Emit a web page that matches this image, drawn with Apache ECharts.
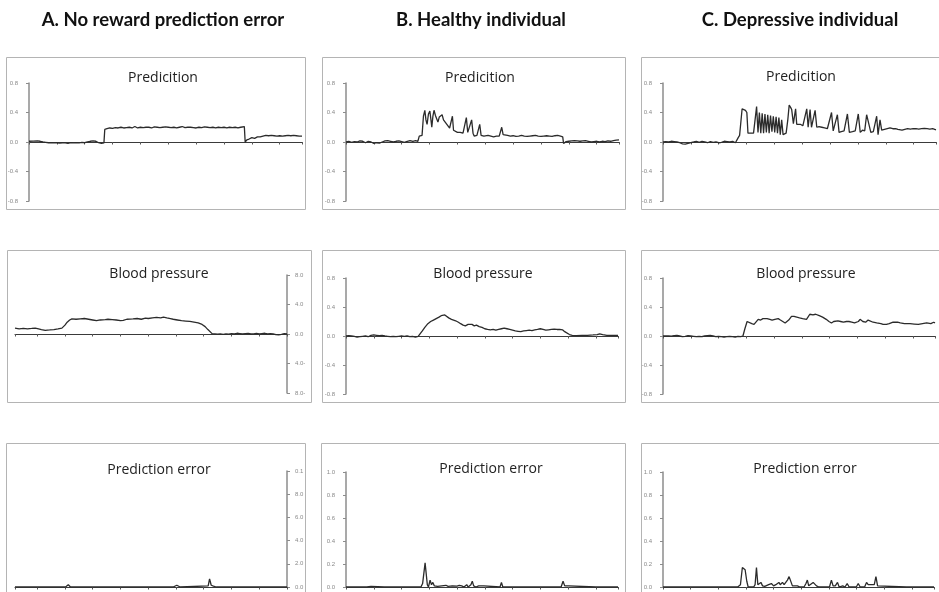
<!DOCTYPE html>
<html>
<head>
<meta charset="utf-8">
<script src="https://cdn.jsdelivr.net/npm/echarts@6/dist/echarts.min.js"></script>
<style>
  html, body { margin: 0; padding: 0; background: #fff; }
  #main { width: 939px; height: 592px; }
</style>
</head>
<body>
<div id="main"></div>
<script>
// column headers and panel titles
var headers = ['A. No reward prediction error', 'B. Healthy individual', 'C. Depressive individual'];
var rowTitles = ['Predicition', 'Blood pressure', 'Prediction error'];

// tick labels of the mirrored panels in column A (they are printed flipped)
var mirroredBpLabels = ['8.0-', '4.0-', '0.0', '4.0', '8.0'];
var mirroredPeLabels = ['0.0', '2.0', '4.0', '6.0', '8.0', '0.1'];

// time runs 0..98 on every panel, ticks every 10
// A. prediction
var predA = [[0,0.01],[1.5,0.012],[3,0.015],[4,0.01],[5,0.0],[6,-0.005],[7,-0.01],[8,-0.008],[9,-0.012],[10,-0.01],[11,-0.015],[12,-0.01],[13,-0.012],[14,-0.018],[15,-0.01],[16,-0.012],[17,-0.008],[18,-0.012],[19,-0.006],[20,-0.01],[21,0.0],[22,0.01],[23,0.015],[24,0.01],[25,-0.01],[26,-0.02],[26.9,-0.012],[27.2,0.17],[28,0.18],[29,0.19],[30,0.185],[31,0.195],[32,0.19],[33,0.2],[34,0.19],[35,0.195],[36,0.2],[37,0.19],[38,0.21],[39,0.19],[40,0.2],[41,0.195],[42,0.2],[43,0.2],[44,0.19],[45,0.205],[46,0.2],[47,0.195],[48,0.2],[49,0.205],[50,0.2],[51,0.195],[52,0.2],[53,0.19],[54,0.2],[55,0.21],[56,0.195],[57,0.2],[58,0.2],[59,0.195],[60,0.19],[61,0.2],[62,0.195],[63,0.205],[64,0.2],[65,0.195],[66,0.2],[67,0.19],[68,0.2],[69,0.195],[70,0.2],[71,0.19],[72,0.2],[73,0.195],[74,0.2],[75,0.19],[76,0.2],[77.3,0.21],[77.6,0.0],[78.2,0.03],[79,0.04],[80,0.06],[81,0.05],[82,0.07],[83,0.07],[84,0.08],[85,0.09],[86,0.085],[87,0.09],[88,0.085],[89,0.08],[90,0.085],[91,0.08],[92,0.085],[93,0.09],[94,0.085],[95,0.09],[96,0.085],[97,0.08],[98,0.08]];

// B. prediction
var predB = [[0,0.0],[1,0.01],[2,-0.005],[3,0.005],[4,0.0],[5,0.015],[6,0.01],[7,-0.01],[8,0.01],[9,0.0],[10,-0.02],[11,-0.01],[12,-0.015],[13,0.0],[14,0.015],[15,0.02],[16,0.01],[17,0.0],[18,0.01],[19,0.015],[20,0.005],[21,-0.005],[22,0.01],[23,0.02],[24,0.01],[25,0.02],[25.8,0.01],[26.3,0.08],[26.8,0.1],[27.3,0.09],[27.8,0.35],[28.3,0.43],[28.7,0.3],[29.1,0.24],[29.6,0.38],[30.1,0.42],[30.5,0.3],[30.8,0.2],[31.2,0.35],[31.6,0.43],[32.1,0.36],[32.5,0.38],[33,0.27],[33.5,0.34],[33.9,0.36],[34.5,0.37],[35,0.3],[35.5,0.28],[36,0.25],[36.6,0.22],[37.2,0.19],[37.8,0.17],[38.2,0.35],[38.6,0.16],[39.2,0.14],[40,0.13],[41,0.13],[42,0.12],[42.6,0.14],[43.2,0.33],[43.7,0.13],[44.3,0.12],[45.1,0.3],[45.6,0.12],[46,0.08],[47,0.09],[47.6,0.1],[48,0.24],[48.5,0.09],[49.5,0.08],[51,0.09],[52,0.08],[53,0.07],[54,0.08],[55,0.08],[55.5,0.1],[55.9,0.2],[56.4,0.1],[57,0.08],[58,0.09],[59,0.08],[60,0.085],[61,0.075],[62,0.08],[63,0.09],[64,0.08],[65,0.075],[66,0.08],[67,0.085],[68,0.09],[69,0.08],[70,0.075],[71,0.08],[72,0.085],[73,0.08],[74,0.075],[75,0.085],[76,0.09],[77,0.08],[77.8,0.07],[78.1,-0.02],[78.6,0.0],[79,0.005],[80,0.01],[81,0.015],[82,0.02],[83,0.015],[84,0.01],[85,0.015],[86,0.02],[87,0.01],[88,0.0],[89,0.005],[90,0.01],[91,0.0],[92,0.01],[93,0.005],[94,0.015],[95,0.01],[96,0.02],[97,0.025],[98,0.03]];

// C. prediction
var predC = [[0,0.0],[1,0.005],[2,0.0],[3,0.01],[4,0.005],[5,0.0],[6,-0.01],[7,-0.025],[8,-0.03],[9,-0.02],[10,-0.01],[11,0.0],[12,0.01],[13,-0.005],[14,0.01],[15,0.0],[16,-0.01],[17,0.005],[18,-0.005],[19,0.0],[20,-0.01],[21,-0.005],[22,0.01],[23,0.005],[24,0.0],[25,0.01],[26,-0.01],[26.5,0.0],[27,0.06],[27.5,0.09],[28,0.1],[28.4,0.45],[29,0.44],[29.6,0.43],[30.1,0.4],[30.5,0.12],[31,0.11],[31.5,0.12],[32,0.11],[32.5,0.12],[33.2,0.12],[33.6,0.48],[34.1,0.13],[34.6,0.4],[35.1,0.12],[35.6,0.39],[36.1,0.12],[36.6,0.38],[37.1,0.13],[37.6,0.37],[38.1,0.12],[38.6,0.36],[39.1,0.14],[39.6,0.35],[40.1,0.13],[40.6,0.34],[41.1,0.12],[41.6,0.33],[42.1,0.1],[42.6,0.3],[43.1,0.1],[43.6,0.08],[44.2,0.12],[44.8,0.3],[45.3,0.5],[45.8,0.47],[46.2,0.44],[46.8,0.25],[47.2,0.27],[47.6,0.45],[48.0,0.24],[48.6,0.25],[49.3,0.24],[50.2,0.22],[50.8,0.24],[51.6,0.45],[52.1,0.2],[52.8,0.44],[53.3,0.2],[54.0,0.22],[54.6,0.43],[55.2,0.2],[56,0.21],[57,0.2],[58,0.19],[59,0.18],[59.6,0.2],[60.5,0.4],[61.1,0.15],[61.6,0.17],[62.6,0.37],[63.2,0.13],[64,0.14],[65,0.15],[65.7,0.16],[66.2,0.38],[66.9,0.13],[68,0.14],[69,0.15],[69.6,0.17],[70.1,0.38],[70.8,0.13],[71.6,0.16],[72.4,0.15],[73.1,0.37],[73.8,0.36],[74.6,0.13],[75.5,0.14],[76.1,0.15],[76.7,0.35],[77.2,0.1],[77.9,0.3],[78.5,0.16],[79.5,0.17],[80.5,0.18],[81.5,0.19],[82.5,0.18],[83.5,0.18],[84.3,0.17],[85,0.155],[85.8,0.16],[86.8,0.17],[87.8,0.18],[88.8,0.175],[89.8,0.18],[90.8,0.18],[91.8,0.175],[92.8,0.18],[93.8,0.185],[94.8,0.18],[95.8,0.175],[96.8,0.18],[97.4,0.17],[98,0.165]];

// A. blood pressure (panel printed mirrored)
var bpA = [[0,0.0],[1,0.005],[2,-0.005],[3,-0.01],[4,-0.008],[5,0.0],[6,0.005],[7,0.0],[8,0.01],[9,0.005],[10,0.0],[11,0.008],[12,0.003],[13,0.0],[14,0.008],[15,0.005],[16,0.0],[17,0.005],[18,0.01],[19,0.0],[20,0.005],[21,-0.003],[22,0.0],[23,-0.005],[24,0.0],[25,-0.003],[26,0.002],[27,0.005],[27.6,0.02],[28.5,0.06],[29.5,0.1],[30.6,0.13],[32,0.15],[33.5,0.16],[35,0.17],[36.5,0.175],[38,0.18],[39.5,0.19],[41,0.2],[42,0.21],[43.3,0.22],[44.5,0.23],[45.5,0.22],[47,0.225],[48.5,0.22],[50,0.21],[51,0.215],[52.5,0.2],[54,0.21],[55.5,0.205],[57.7,0.2],[59,0.185],[60,0.18],[61.5,0.19],[63,0.195],[64.5,0.2],[65.5,0.195],[67.3,0.19],[68.6,0.18],[70,0.19],[71.5,0.2],[73,0.21],[74.5,0.205],[76,0.2],[77.5,0.205],[78.3,0.19],[79.2,0.16],[80,0.12],[81.1,0.08],[82.5,0.07],[84,0.06],[85.5,0.055],[87.1,0.05],[88.5,0.06],[89.5,0.07],[90.7,0.08],[92,0.075],[93.5,0.07],[95,0.075],[96.5,0.07],[98,0.08]];

// B. blood pressure
var bpB = [[0,0.0],[1,0.005],[2,0.0],[3,-0.005],[4,-0.015],[5,-0.01],[6,-0.005],[7,0.0],[8,-0.01],[9,0.01],[10,0.015],[11,0.01],[12,0.005],[13,0.01],[14,0.0],[15,-0.005],[16,-0.01],[17,-0.005],[18,-0.01],[19,-0.005],[20,0.0],[21,-0.005],[22,0.0],[23,-0.01],[24,-0.005],[25,-0.015],[26,-0.005],[26.6,0.01],[27.5,0.07],[28.4,0.12],[29.5,0.17],[30.5,0.2],[31.5,0.22],[32.5,0.24],[33.5,0.26],[34.3,0.28],[35,0.3],[35.6,0.29],[36.3,0.27],[37,0.25],[38,0.23],[38.7,0.22],[39.5,0.21],[40.5,0.19],[41.3,0.17],[42.2,0.15],[43,0.14],[44,0.16],[44.6,0.15],[45.4,0.16],[46.2,0.14],[47,0.15],[48,0.13],[49,0.12],[50,0.1],[51,0.09],[52,0.085],[53,0.09],[54,0.08],[55,0.09],[56,0.1],[57,0.11],[58,0.1],[59,0.09],[60,0.08],[61,0.07],[62,0.065],[63,0.06],[64,0.07],[65,0.075],[66,0.08],[67,0.075],[68,0.085],[69,0.09],[70,0.1],[71,0.09],[72,0.08],[73,0.085],[74,0.09],[75,0.095],[76,0.09],[77,0.09],[78,0.085],[78.8,0.06],[79.5,0.04],[80.5,0.02],[81.5,0.01],[83,0.005],[85,0.01],[87,0.01],[89,0.015],[90.5,0.02],[91.4,0.03],[92.5,0.02],[94,0.01],[96,0.01],[98,0.01]];

// C. blood pressure
var bpC = [[0,0.0],[1,0.003],[2,0.0],[3,-0.003],[4,0.005],[5,0.01],[6,0.0],[7,-0.01],[8,-0.005],[9,0.005],[10,0.0],[11,-0.005],[12,-0.01],[13,-0.005],[14,-0.01],[15,0.0],[16,0.005],[17,0.01],[18,0.0],[19,-0.01],[20,-0.005],[21,-0.01],[22,-0.015],[23,-0.01],[24,-0.005],[25,-0.01],[26,-0.015],[27,-0.005],[28,-0.01],[28.8,0.0],[29.5,0.1],[30.3,0.2],[31,0.19],[32,0.17],[32.8,0.16],[33.4,0.15],[34.3,0.23],[35.2,0.22],[36,0.24],[36.7,0.25],[37.5,0.24],[38.5,0.23],[39.3,0.22],[40.3,0.23],[41.5,0.24],[42.3,0.22],[43,0.21],[44,0.18],[44.5,0.17],[45.3,0.22],[46.3,0.27],[47.2,0.27],[48.2,0.26],[49.2,0.25],[50.3,0.24],[51.7,0.23],[52.4,0.27],[52.9,0.3],[54,0.29],[55,0.3],[56.3,0.28],[57.5,0.26],[58.8,0.23],[59.8,0.2],[60.7,0.18],[61.5,0.2],[62,0.22],[63,0.21],[64,0.2],[65,0.19],[66.1,0.2],[67,0.2],[68,0.19],[69,0.18],[69.7,0.16],[70.4,0.2],[71,0.23],[72,0.2],[73,0.19],[73.9,0.22],[74.6,0.21],[75.7,0.19],[77,0.18],[78.5,0.17],[79.3,0.16],[80.5,0.16],[81.5,0.17],[82.9,0.19],[84.5,0.19],[85.5,0.18],[87,0.17],[89,0.17],[90.5,0.165],[92,0.16],[93.5,0.17],[95,0.18],[96.5,0.17],[97.5,0.19],[98,0.18]];

// A. prediction error (panel printed mirrored)
var peA = [[0,0],[3.5,0],[3.8,0.008],[4.1,0],[6.5,0],[6.8,0.005],[7.1,0],[9.5,0],[9.8,0.006],[10.1,0],[18.5,0],[18.8,0.005],[19.1,0],[25.5,0],[26,0.01],[26.5,0.008],[27.3,0.015],[27.9,0.07],[28.4,0.01],[29,0],[38.5,0],[39.2,0.01],[39.7,0.015],[40.3,0.005],[41,0],[58,0],[58.4,0.008],[58.8,0],[68,0],[68.4,0.006],[68.8,0],[73,0],[73.4,0.006],[73.8,0],[78,0],[78.4,0.015],[78.8,0.02],[79.3,0.01],[79.8,0],[98,0]];

// B. prediction error
var peB = [[0,0],[3,0],[3.3,0.008],[3.6,0],[7.5,0],[7.8,0.006],[8.2,0],[9,0.006],[9.4,0],[13.8,0],[14.1,0.004],[14.4,0],[27,0],[27.6,0.03],[28.5,0.21],[29.3,0.02],[29.7,0],[30.3,0.06],[30.8,0.02],[31.3,0.04],[31.8,0.01],[33,0.005],[34.5,0.01],[35.2,0.005],[36,0.015],[36.8,0.005],[37.5,0.015],[38.3,0.01],[39,0.012],[40,0.008],[40.8,0.015],[41.7,0.01],[42.5,0],[43.5,0.02],[44,0],[45,0.02],[45.5,0.05],[46,0.01],[46.8,0],[47.8,0.01],[48.3,0],[49.7,0.01],[50.2,0],[55.5,0],[56,0.04],[56.5,0],[77.5,0],[78.2,0.05],[78.8,0.01],[79.5,0],[80.3,0.01],[81,0],[90,0],[90.4,0.005],[90.8,0],[93,0],[93.4,0.005],[93.8,0],[98,0]];

// C. prediction error
var peC = [[0,0],[11.5,0],[12,0.01],[12.5,0],[26,0],[26.5,0.01],[27,0],[28,0.02],[28.7,0.17],[29.2,0.16],[29.7,0.15],[30.3,0.05],[30.8,0],[32.8,0],[33.3,0.02],[33.8,0.17],[34.3,0.02],[34.8,0.01],[35.4,0.04],[36,0.01],[36.8,0.005],[37.5,0.01],[38.2,0.02],[39.2,0.03],[40,0.01],[40.8,0.02],[41.4,0.03],[41.9,0.04],[42.4,0.02],[43.2,0.04],[43.8,0.02],[44.3,0.03],[45,0.06],[45.6,0.09],[46.1,0.1],[46.8,0.01],[47.5,0],[48.6,0.01],[49.5,0],[51,0],[51.7,0.03],[52.2,0.06],[52.7,0.01],[53.4,0.02],[54.3,0.04],[54.9,0.03],[55.5,0.01],[56.4,0],[60.2,0],[60.9,0.06],[61.5,0.01],[62.3,0.01],[63.1,0.04],[63.7,0],[65,0.01],[65.8,0],[66.6,0.03],[67.3,0],[69.9,0],[70.6,0.03],[71.3,0],[72.9,0],[73.6,0.04],[74.2,0.02],[75.1,0.02],[75.8,0.03],[76.4,0.02],[77,0.09],[77.6,0.01],[78.2,0],[88,0],[88.5,0.01],[89,0],[89.6,0.01],[90.1,0],[98,0]];

var chart = echarts.init(document.getElementById('main'));

// panel layout: frame box, plot grid, title centre
var panels = [
    { data: predA, frame: [6.5, 57.5, 299, 152], grid: [29, 83, 273, 118], title: [158, 75, 0], y: 'pm' },
    { data: predB, frame: [322.5, 57.5, 303, 152], grid: [346, 83, 273, 118], title: [475, 75, 0], y: 'pm' },
    { data: predC, frame: [641.5, 57.5, 310, 152], grid: [663, 83, 273, 118], title: [796, 74, 0], y: 'pm' },
    { data: bpA, frame: [7.5, 250.5, 304, 152], grid: [15, 275, 272, 118], title: [154, 271, 1], y: 'pm', mirror: mirroredBpLabels },
    { data: bpB, frame: [322.5, 250.5, 303, 152], grid: [346, 278, 272, 116], title: [478, 271, 1], y: 'pm' },
    { data: bpC, frame: [641.5, 250.5, 310, 152], grid: [663, 278, 272, 116], title: [801, 271, 1], y: 'pm' },
    { data: peA, frame: [6.5, 443.5, 299, 160], grid: [15, 471, 272, 116], title: [154, 467, 2], y: 'pos', mirror: mirroredPeLabels },
    { data: peB, frame: [321.5, 443.5, 304, 160], grid: [346, 472, 272, 115], title: [486, 466, 2], y: 'pos' },
    { data: peC, frame: [641.5, 443.5, 310, 160], grid: [663, 472, 271, 115], title: [800, 466, 2], y: 'pos' }
];

var grids = [], xAxes = [], yAxes = [], series = [], titles = [], frames = [];

headers.forEach(function (h, i) {
    titles.push({
        text: h, left: [158, 476, 795][i], top: 6, textAlign: 'center',
        textStyle: { fontFamily: 'Lato', fontWeight: 'bold', fontSize: 18.5, color: '#111' }
    });
});

panels.forEach(function (p, i) {
    var mirrored = !!p.mirror;
    grids.push({ left: p.grid[0], top: p.grid[1], width: p.grid[2], height: p.grid[3], containLabel: false });
    xAxes.push({
        type: 'value', gridIndex: i, min: 0, max: 98, interval: 10, inverse: mirrored,
        axisLine: { onZero: true, lineStyle: { color: '#3a3a3a', width: 1 } },
        axisTick: { show: true, length: 2.5, lineStyle: { color: '#555' } },
        axisLabel: { show: false }, splitLine: { show: false }
    });
    yAxes.push({
        type: 'value', gridIndex: i, position: mirrored ? 'right' : 'left',
        min: p.y === 'pm' ? -0.8 : 0, max: p.y === 'pm' ? 0.8 : 1, interval: p.y === 'pm' ? 0.4 : 0.2,
        axisLine: { show: true, onZero: false, lineStyle: { color: '#8c8c8c', width: 1.5 } },
        axisTick: { show: true, length: 3, lineStyle: { color: '#8c8c8c' } },
        splitLine: { show: false },
        axisLabel: {
            fontSize: 6, color: '#8a8a8a', margin: mirrored ? 8 : 11, fontFamily: 'Liberation Sans',
            formatter: mirrored ? (function (labels) {
                return function (v, idx) { return labels[idx]; };
            })(p.mirror) : function (v) { return v.toFixed(1); }
        }
    });
    series.push({
        type: 'line', xAxisIndex: i, yAxisIndex: i, data: p.data,
        showSymbol: false, animation: false,
        lineStyle: { color: '#2b2b2b', width: 1.3 }
    });
    titles.push({
        text: rowTitles[p.title[2]], left: p.title[0], top: p.title[1] - 9, textAlign: 'center',
        textStyle: { fontFamily: 'Open Sans', fontWeight: 'normal', fontSize: 14, color: '#222' }
    });
    frames.push({
        type: 'rect', shape: { x: p.frame[0], y: p.frame[1], width: p.frame[2], height: p.frame[3] },
        style: { fill: 'none', stroke: '#b4b4b4', lineWidth: 1 }, z: 0
    });
});

chart.setOption({
    animation: false,
    title: titles,
    grid: grids,
    xAxis: xAxes,
    yAxis: yAxes,
    series: series,
    graphic: frames
});

window.onresize = function () {
    chart.resize();
};
</script>
</body>
</html>
